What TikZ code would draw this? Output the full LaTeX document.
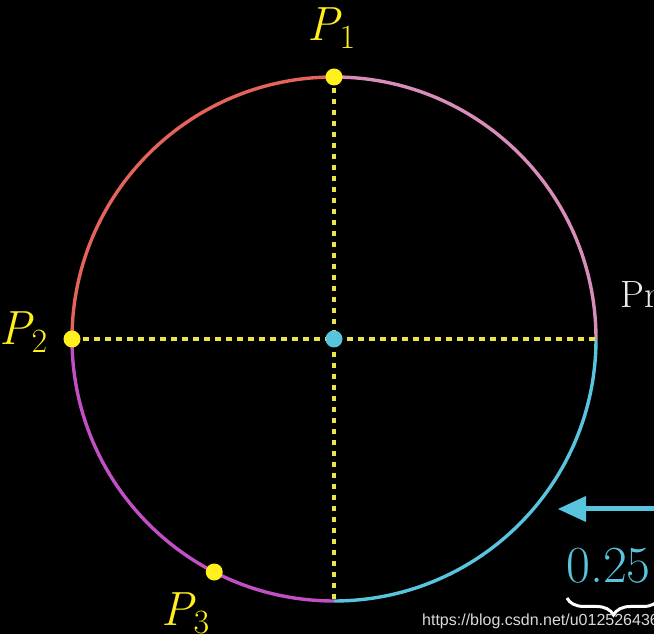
\documentclass[tikz,border=0pt]{standalone}
\usepackage{fontspec}
\newfontfamily\wmfont{Liberation Sans}
\usetikzlibrary{decorations.pathreplacing,calc}
\definecolor{arcred}{HTML}{E4635A}
\definecolor{arcpink}{HTML}{D98DB9}
\definecolor{arcmag}{HTML}{C24FC6}
\definecolor{arcblue}{HTML}{58C4DD}
\definecolor{ptyellow}{HTML}{FFF01E}
\definecolor{dashyellow}{HTML}{EBE448}
\newcommand{\ptlab}[1]{\textit{P}\kern-2pt\raisebox{-8pt}{\fontsize{34}{34}\selectfont #1}}
\tikzset{
  arcline/.style={line width=3.4pt},
  guide/.style={dashyellow, line width=3.1pt, dash pattern=on 5.5pt off 5.5pt},
  ptdot/.style={circle, fill=ptyellow, inner sep=0pt, minimum size=17pt},
  ctrdot/.style={circle, fill=arcblue, inner sep=0pt, minimum size=17pt},
  plabel/.style={text=ptyellow, inner sep=0pt, anchor=base west, font=\fontsize{48}{48}\selectfont},
}
\begin{document}
\begin{tikzpicture}[x=1pt,y=1pt]
\fill[black] (0,0) rectangle (654,634);
\useasboundingbox (0,0) rectangle (654,634);
\coordinate (O) at (334,295);
\coordinate (T) at (334,557);
\coordinate (L) at (72,295);
\coordinate (R) at (596,295);
\coordinate (B) at (334,33);
% arcs
\draw[arcline, arcred]  (L) arc (180:90:262);
\draw[arcline, arcpink] (T) arc (90:0:262);
\draw[arcline, arcblue] (R) arc (0:-90:262);
\draw[arcline, arcmag]  (B) arc (270:180:262);
% dashed guides
\draw[guide] (T) -- (B);
\draw[guide] (L) -- (R);
% dots
\node[ctrdot] (c) at (O) {};
\node[ptdot] (p1) at (T) {};
\node[ptdot] (p2) at (L) {};
\node[ptdot] (p3) at ($(O)+(242.8:262)$) {};
% labels
\node[plabel] (l1) at (307,593) {\ptlab{1}};
\node[plabel] (l2) at (-1,289) {\ptlab{2}};
\node[plabel] (l3) at (161,8) {\ptlab{3}};
\node[inner sep=0pt, anchor=base west, text=white!92!black, font=\fontsize{38}{38}\selectfont] (pr) at (620,326) {Pr};
% arrow
\coordinate (a0) at (660,125);
\coordinate (a1) at (582,125);
\draw[arcblue, line width=5pt] (a0) -- (a1);
\fill[arcblue] (558,125) -- (586,138) -- (586,112) -- cycle;
% value
\node[inner sep=0pt, anchor=base west, text=arcblue, font=\fontsize{52}{52}\selectfont] (v) at (566,51) {0.25};
\coordinate (b0) at (567,36);
\coordinate (b1) at (660,36);
\draw[white, line width=3pt, decorate, decoration={brace, mirror, amplitude=17pt}] (b0) -- (b1);
% watermark
\node[inner sep=0pt, anchor=base west, text=white!85!black, font=\wmfont\fontsize{16}{16}\selectfont] (wm) at (422,8) {https://blog.csdn.net/u012526436};
\end{tikzpicture}
\end{document}
